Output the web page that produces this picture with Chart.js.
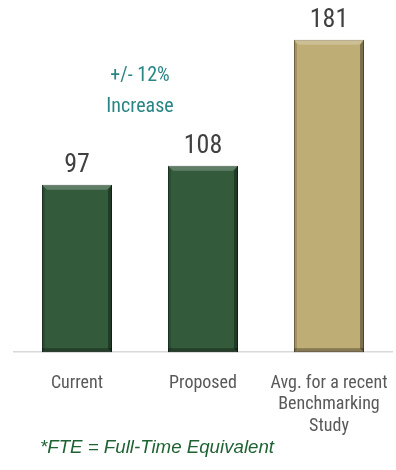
<!DOCTYPE html>
<html>
<head>
<meta charset="utf-8">
<script src="https://cdn.jsdelivr.net/npm/chart.js@4/dist/chart.umd.min.js"></script>
<style>
  html, body { margin: 0; padding: 0; background: #ffffff; }
  #wrap { position: relative; width: 396px; height: 470px; }
  #c { position: absolute; left: 0; top: 0; }
  #note { position: absolute; left: 40px; top: 436px; font: italic 18.7px 'Liberation Sans', Arial, sans-serif; color: #1f6334; white-space: nowrap; }
</style>
</head>
<body>
<div id="wrap">
  <canvas id="c" width="396" height="470"></canvas>
  <div id="note">*FTE = Full-Time Equivalent</div>
</div>
<script>
const categories = ['Current', 'Proposed', ['Avg. for a recent', 'Benchmarking', 'Study']];
const fteValues = [97, 108, 181];
const barColors = ['#335a3b', '#335a3b', '#bfad76'];
const barEdgeColors = ['#1c3322', '#1c3322', '#7d6f45'];
const annotationLines = ['+/- 12%', 'Increase'];
const condensed = "'Liberation Sans Narrow', 'Roboto Condensed', 'Open Sans', sans-serif";

const valueLabels = {
  id: 'valueLabels',
  afterDatasetsDraw(chart) {
    const ctx = chart.ctx;
    const meta = chart.getDatasetMeta(0);
    ctx.save();
    ctx.fillStyle = '#404040';
    ctx.font = '26px ' + condensed;
    ctx.textAlign = 'center';
    ctx.textBaseline = 'alphabetic';
    meta.data.forEach((bar, i) => {
      ctx.fillText(String(fteValues[i]), bar.x, bar.y - 13);
    });
    // bevel effect
    meta.data.forEach((bar, i) => {
      const w = bar.width, l = bar.x - w / 2, r = bar.x + w / 2, t = bar.y, b = bar.base;
      ctx.fillStyle = 'rgba(255,255,255,0.22)';
      ctx.beginPath();
      ctx.moveTo(l, t); ctx.lineTo(r, t); ctx.lineTo(r - 5, t + 5); ctx.lineTo(l + 5, t + 5); ctx.closePath(); ctx.fill();
      ctx.fillStyle = 'rgba(0,0,0,0.35)';
      ctx.beginPath();
      ctx.moveTo(r, t); ctx.lineTo(r, b); ctx.lineTo(r - 4, b - 4); ctx.lineTo(r - 4, t + 5); ctx.closePath(); ctx.fill();
      ctx.fillStyle = 'rgba(0,0,0,0.15)';
      ctx.beginPath();
      ctx.moveTo(l, t); ctx.lineTo(l, b); ctx.lineTo(l + 3, b - 3); ctx.lineTo(l + 3, t + 5); ctx.closePath(); ctx.fill();
      ctx.fillStyle = 'rgba(0,0,0,0.3)';
      ctx.fillRect(l, b - 4, w, 4);
    });
    // annotation
    const xs = chart.scales.x, ys = chart.scales.y;
    const ax = (xs.getPixelForValue(0) + xs.getPixelForValue(1)) / 2;
    ctx.fillStyle = '#2a8585';
    ctx.font = '20px ' + condensed;
    ctx.textBaseline = 'middle';
    ctx.fillText(annotationLines[0], ax, ys.getPixelForValue(160));
    ctx.fillText(annotationLines[1], ax, ys.getPixelForValue(142));
    ctx.restore();
  }
};

new Chart(document.getElementById('c'), {
  type: 'bar',
  data: {
    labels: categories,
    datasets: [{
      data: fteValues,
      backgroundColor: barColors,
      borderColor: barEdgeColors,
      borderWidth: 1,
      borderSkipped: false,
      barPercentage: 0.556,
      categoryPercentage: 1.0
    }]
  },
  options: {
    responsive: false,
    animation: false,
    devicePixelRatio: 1,
    layout: { padding: { left: 14, right: 4, top: 7, bottom: 13 } },
    plugins: { legend: { display: false }, tooltip: { enabled: false } },
    scales: {
      x: {
        grid: { display: false, drawTicks: false },
        border: { display: true, color: '#d9d9d9', width: 1.5 },
        afterFit(scale) { scale.paddingLeft = 0; scale.paddingRight = 0; },
        ticks: {
          color: '#595959',
          padding: 20,
          font: { family: condensed, size: 18, lineHeight: 1.2 },
          maxRotation: 0, autoSkip: false
        }
      },
      y: {
        display: false,
        min: 0,
        max: 200
      }
    }
  },
  plugins: [valueLabels]
});
</script>
</body>
</html>
